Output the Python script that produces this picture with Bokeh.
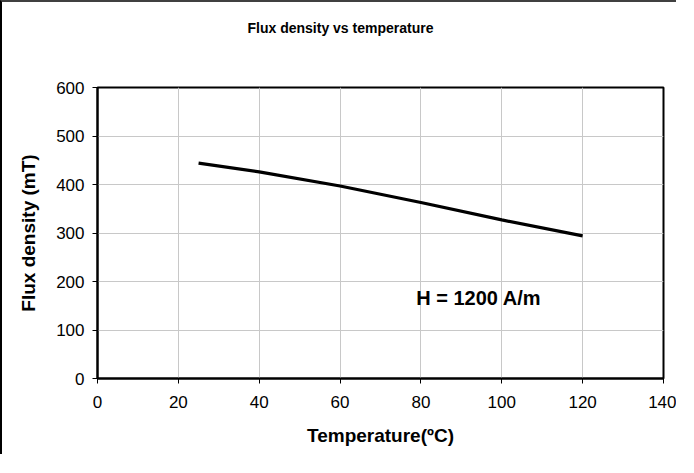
from bokeh.plotting import figure
from bokeh.models import Label, FixedTicker, Range1d, Title
from bokeh.embed import file_html
from bokeh.resources import INLINE

# Data
temperature = [25, 40, 60, 80, 100, 120]
flux_density = [444, 426, 397, 363, 327, 294]
x_ticks = [0, 20, 40, 60, 80, 100, 120, 140]
y_ticks = [0, 100, 200, 300, 400, 500, 600]

title_text = "Flux density vs temperature"
x_label = "Temperature(ºC)"
y_label = "Flux density (mT)"
note_text = "H = 1200 A/m"

FONT = "Liberation Sans"

p = figure(width=676, height=454,
           x_range=Range1d(0, 140), y_range=Range1d(0, 600),
           output_backend="svg", toolbar_location=None,
           min_border_left=95, min_border_right=15,
           min_border_top=85, min_border_bottom=78)
p.styles = {"border-left": "2px solid #000000", "border-top": "2px solid #404040"}

p.title.text = title_text
p.title.align = "left"
p.title.offset = 150
p.title.text_font = FONT
p.title.text_font_size = "14px"
p.title.text_font_style = "bold"
p.title.text_color = "black"

# invisible spacer between the title and the plot area
spacer = Title(text=" ", text_font_size="1px", standoff=44, text_color="white")
p.add_layout(spacer, "above")

p.background_fill_color = "white"
p.border_fill_color = "white"
p.outline_line_color = "black"
p.outline_line_width = 2

for ax, ticks in ((p.xaxis[0], x_ticks), (p.yaxis[0], y_ticks)):
    ax.ticker = FixedTicker(ticks=ticks)
    ax.axis_line_color = "black"
    ax.axis_line_width = 2
    ax.major_tick_line_color = "black"
    ax.major_tick_line_width = 1
    ax.major_tick_in = 0
    ax.major_tick_out = 5
    ax.minor_tick_line_color = None
    ax.major_label_text_font = FONT
    ax.major_label_text_font_size = "17px"
    ax.major_label_text_color = "black"
    ax.axis_label_text_font = FONT
    ax.axis_label_text_font_size = "19px"
    ax.axis_label_text_font_style = "bold"
    ax.axis_label_text_color = "black"

p.xaxis.axis_label = x_label
p.yaxis.axis_label = y_label
p.xaxis.major_label_standoff = 12
p.yaxis.major_label_standoff = 8
p.xaxis.axis_label_standoff = 14
p.yaxis.axis_label_standoff = 14

p.xgrid.ticker = FixedTicker(ticks=x_ticks)
p.ygrid.ticker = FixedTicker(ticks=y_ticks)
p.grid.grid_line_color = "#c8c8c8"
p.grid.grid_line_width = 1

p.line(temperature, flux_density, line_color="black", line_width=3.2)

p.add_layout(Label(x=94.3, y=167, text=note_text, text_align="center",
                   text_baseline="middle", text_font=FONT, text_font_size="20px",
                   text_font_style="bold", text_color="black"))

open("out.html", "w").write(file_html(p, INLINE))
